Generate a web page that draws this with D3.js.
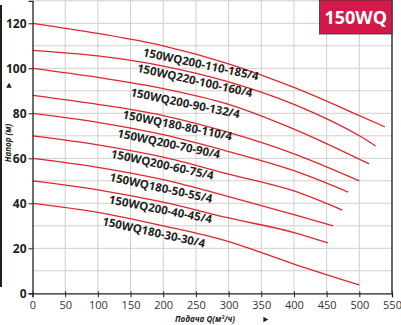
<!DOCTYPE html>
<html><head><meta charset="utf-8">
<script src="https://cdn.jsdelivr.net/npm/d3@7"></script>
<style>
html,body{margin:0;padding:0;background:#fff;}
svg{display:block;}
</style></head>
<body>
<script>
// ---- data ----
const models = ["150WQ200-110-185/4","150WQ220-100-160/4","150WQ200-90-132/4","150WQ180-80-110/4",
  "150WQ200-70-90/4","150WQ200-60-75/4","150WQ180-50-55/4","150WQ200-40-45/4","150WQ180-30-30/4"];
const flowQ = [
  [0,100,200,300,400,500,539],
  [0,100,200,300,400,500,525],
  [0,100,200,300,400,515],
  [0,100,200,300,400,500],
  [0,100,200,300,400,483],
  [0,100,200,300,400,474],
  [0,100,200,300,400,460],
  [0,100,200,300,400,452],
  [0,100,200,300,400,500]
];
const headH = [
  [120,115.5,110,102,91.5,79,74],
  [108,105.5,101,94,84,70,65.5],
  [100,96,91,84,73,57.5],
  [88,84,79,71.5,62,50],
  [80,76,70.5,63,54.5,45],
  [70,66,60.5,53,45.5,37],
  [60,56,50.5,43,35,30],
  [50,46,40.5,33.5,27,22.4],
  [40,36,30,23,13,3.7]
];
// label anchors (start of text) in data units and tilt
const labelQ = [168,159,149,137,129,119,117,116,106];
const labelH = [105.5,98.5,87.7,77.8,69.5,60.4,50,40,30.4];
const labelAngle = [12,12.5,11.6,11.5,12,12.3,12.2,11,12.5];
const xTicks = [0,50,100,150,200,250,300,350,400,450,500,550];
const yTicks = [0,20,40,60,80,100,120];
const xGrid = d3.range(50,551,50);
const yGrid = d3.range(10,131,10);
const titleText = "150WQ";
const yTitle = "Напор (м)";
const xTitle = "Подача Q(м³/ч)";

// ---- drawing ----
const W = 401, H = 325;
const svg = d3.select("body").append("svg").attr("width",W).attr("height",H);
const x = d3.scaleLinear().domain([0,550]).range([32.5,392]);
const y = d3.scaleLinear().domain([0,130]).range([293.3,0.8]);

// grid
const g = svg.append("g");
g.selectAll("line.vg").data(xGrid).join("line").attr("class","vg")
  .attr("x1",d=>x(d)).attr("x2",d=>x(d)).attr("y1",y(0)).attr("y2",y(130))
  .attr("stroke","#cfcfcf").attr("stroke-width",1);
g.selectAll("line.hg").data(yGrid).join("line").attr("class","hg")
  .attr("x1",x(0)).attr("x2",x(550)).attr("y1",d=>y(d)).attr("y2",d=>y(d))
  .attr("stroke","#cfcfcf").attr("stroke-width",1);

// curves
const line = d3.line().x(d=>x(d[0])).y(d=>y(d[1])).curve(d3.curveMonotoneX);
models.forEach((m,i)=>{
  const pts = flowQ[i].map((q,j)=>[q,headH[i][j]]);
  svg.append("path").attr("d",line(pts)).attr("fill","none")
    .attr("stroke","#e3242b").attr("stroke-width",1.3);
});

// labels
models.forEach((m,i)=>{
  svg.append("text")
    .attr("transform",`translate(${x(labelQ[i])},${y(labelH[i])}) rotate(${labelAngle[i]})`)
    .attr("font-family","'Open Sans', sans-serif").attr("font-weight",700)
    .attr("font-size",11.5).attr("fill","#231f20").text(m);
});

// axes
const xAxis = d3.axisBottom(x).tickValues(xTicks).tickSize(4).tickFormat(d3.format("d"));
const gx = svg.append("g").attr("transform",`translate(0,${y(0)})`).call(xAxis);
gx.select(".domain").attr("stroke","#222").attr("stroke-width",1.3);
gx.selectAll(".tick line").attr("stroke","#222").attr("y1",-2);
gx.selectAll(".tick text").attr("font-family","'Open Sans', sans-serif").attr("font-size",11)
  .attr("fill","#333").attr("dy","0.75em").attr("y",7);

const yAxis = d3.axisLeft(y).tickValues(yTicks).tickSize(4).tickFormat(d3.format("d"));
const gy = svg.append("g").attr("transform",`translate(${x(0)},0)`).call(yAxis);
gy.select(".domain").attr("stroke","#222").attr("stroke-width",1.3);
gy.selectAll(".tick line").attr("stroke","#222");
gy.selectAll(".tick text").attr("font-family","'Open Sans', sans-serif").attr("font-size",12)
  .attr("font-weight",700).attr("fill","#231f20").attr("x",-6);

// right frame
svg.append("line").attr("x1",x(550)).attr("x2",x(550)).attr("y1",y(130)-1).attr("y2",y(0))
  .attr("stroke","#222").attr("stroke-width",1.3);

// left black bar
svg.append("rect").attr("x",0).attr("y",5).attr("width",2).attr("height",282).attr("fill","#231f20");

// title box
svg.append("rect").attr("x",319.5).attr("y",0).attr("width",x(550)-319.5).attr("height",34)
  .attr("fill","#d3184a").attr("stroke","#333").attr("stroke-width",0.8);
svg.append("text").attr("x",(319.5+x(550))/2).attr("y",24).attr("text-anchor","middle")
  .attr("font-family","'Open Sans', sans-serif").attr("font-weight",700).attr("font-size",18)
  .attr("fill","#fff").text(titleText);

// axis titles
svg.append("text").attr("transform","translate(11,143) rotate(-90)").attr("text-anchor","middle")
  .attr("font-family","'Open Sans', sans-serif").attr("font-style","italic").attr("font-weight",700)
  .attr("font-size",8).attr("fill","#231f20").text(yTitle);
svg.append("path").attr("d",d3.symbol(d3.symbolTriangle,14)()).attr("transform","translate(9,86)")
  .attr("fill","#231f20");
svg.append("text").attr("x",205).attr("y",322).attr("text-anchor","middle")
  .attr("font-family","'Open Sans', sans-serif").attr("font-style","italic").attr("font-weight",700)
  .attr("font-size",8).attr("fill","#231f20").text(xTitle);
svg.append("path").attr("d",d3.symbol(d3.symbolTriangle,14)()).attr("transform","translate(265,319.5) rotate(90)")
  .attr("fill","#231f20");
</script>
</body></html>
